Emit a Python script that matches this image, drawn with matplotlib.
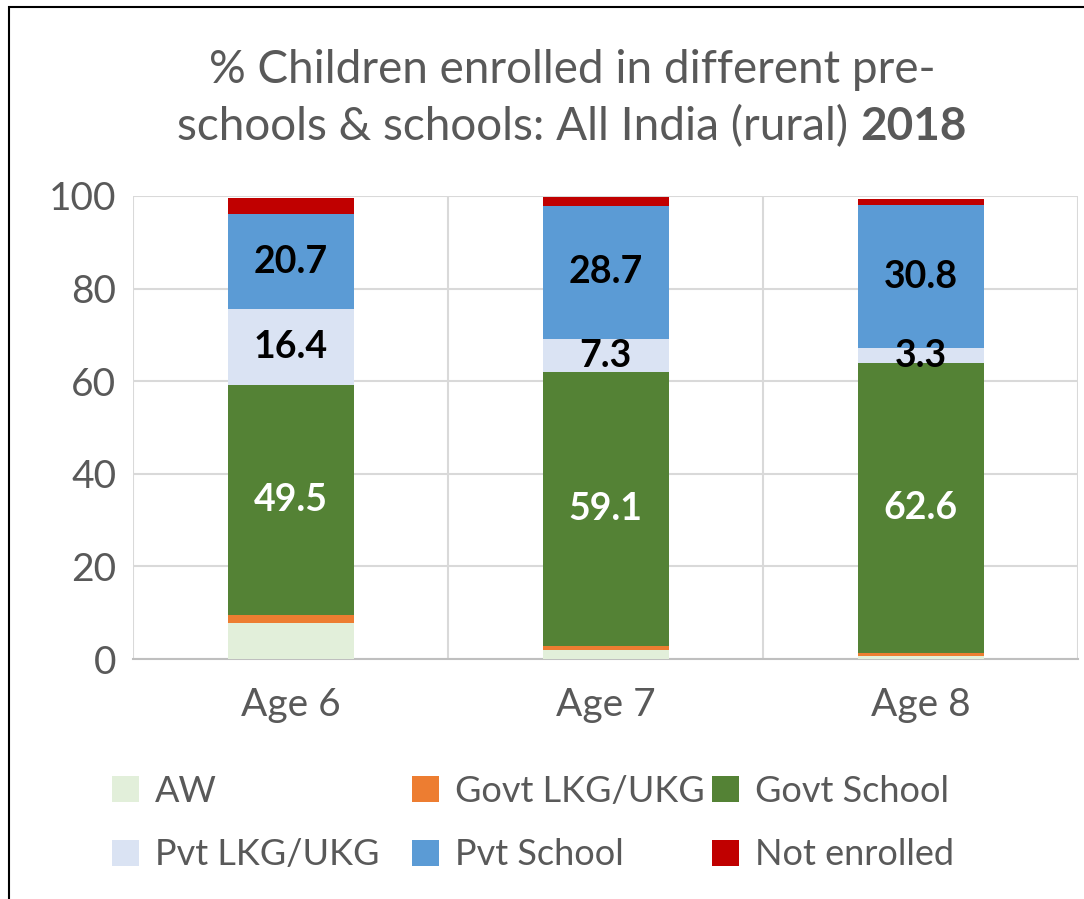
import numpy as np
import matplotlib.pyplot as plt
from matplotlib.patches import Rectangle

plt.rcParams['font.family'] = ['Lato', 'DejaVu Sans']

ages = ['Age 6', 'Age 7', 'Age 8']
series = ['AW', 'Govt LKG/UKG', 'Govt School', 'Pvt LKG/UKG', 'Pvt School', 'Not enrolled']
aw = [7.7, 1.9, 0.7]
govt_lkg = [1.9, 0.9, 0.6]
govt_school = [49.5, 59.1, 62.6]
pvt_lkg = [16.4, 7.3, 3.3]
pvt_school = [20.7, 28.7, 30.8]
not_enrolled = [3.3, 1.8, 1.4]
colors = ['#E2EFDA', '#ED7D31', '#548235', '#DAE3F3', '#5B9BD5', '#C00000']
# which series get a value label, and in what colour
label_color = {2: 'white', 3: 'black', 4: 'black'}

W, H = 1084, 899
fig = plt.figure(figsize=(W / 100, H / 100), dpi=100)
ax = fig.add_axes([133 / W, 1 - 659 / H, (1078 - 133) / W, (659 - 196) / H])

x = np.arange(len(ages))
data = [aw, govt_lkg, govt_school, pvt_lkg, pvt_school, not_enrolled]
bottom = np.zeros(len(ages))
handles = []
for i, vals in enumerate(data):
    vals = np.array(vals)
    b = ax.bar(x, vals, 0.4, bottom=bottom, color=colors[i], label=series[i], zorder=3)
    handles.append(b)
    if i in label_color:
        for xi, v, bt in zip(x, vals, bottom):
            ax.text(xi, bt + v / 2, f'{v:.1f}', ha='center', va='center',
                    fontsize=27, fontweight='bold', color=label_color[i], zorder=4)
    bottom += vals

ax.set_xlim(-0.5, 2.5)
ax.set_ylim(0, 100)
ax.set_yticks(range(0, 101, 20))
ax.set_xticks(x)
ax.set_xticklabels(ages)
ax.set_xticks([-0.5, 0.5, 1.5, 2.5], minor=True)
ax.tick_params(axis='both', which='both', length=0, labelsize=28, colors='#595959')
ax.tick_params(axis='x', pad=20)
ax.tick_params(axis='y', pad=12)
ax.grid(axis='y', which='major', color='#d9d9d9', linewidth=1.5, zorder=0)
ax.grid(axis='x', which='minor', color='#d9d9d9', linewidth=1.5, zorder=0)
for s in ['top', 'right', 'left']:
    ax.spines[s].set_visible(False)
ax.spines['bottom'].set_color('#bfbfbf')
ax.spines['bottom'].set_linewidth(1.5)

# legend: one small legend per column so the columns sit where Excel put them
col_x = [112, 412, 712]
for c in range(3):
    ks = [c, c + 3]
    fig.legend([handles[k] for k in ks], [series[k] for k in ks], ncol=1,
               loc='center left', bbox_to_anchor=(col_x[c] / W, 1 - 823 / H),
               frameon=False, fontsize=26, labelcolor='#595959',
               handlelength=0.75, handleheight=0.75, handletextpad=0.45,
               labelspacing=0.85, borderpad=0, borderaxespad=0)

# title, two lines, with bold year
t_color = '#595959'
fig.text(572 / W, 1 - 70 / H, '% Children enrolled in different pre-', ha='center',
         va='center', fontsize=33, color=t_color)
t1 = fig.text(0, 1 - 127 / H, 'schools & schools: All India (rural) ', ha='left',
              va='center', fontsize=33, color=t_color)
t2 = fig.text(0, 1 - 127 / H, '2018', ha='left', va='center', fontsize=33,
              fontweight='bold', color=t_color)
fig.canvas.draw()
r = fig.canvas.get_renderer()
w1 = t1.get_window_extent(r).width
w2 = t2.get_window_extent(r).width
start = 572 - (w1 + w2) / 2
t1.set_x(start / W)
t2.set_x((start + w1) / W)

fig.patches.append(Rectangle((9 / W, -0.05), 1.2, 1 - 7 / H + 0.05, transform=fig.transFigure,
                             fill=False, edgecolor='black', linewidth=1.5))

fig.savefig('out.png', dpi=100)
